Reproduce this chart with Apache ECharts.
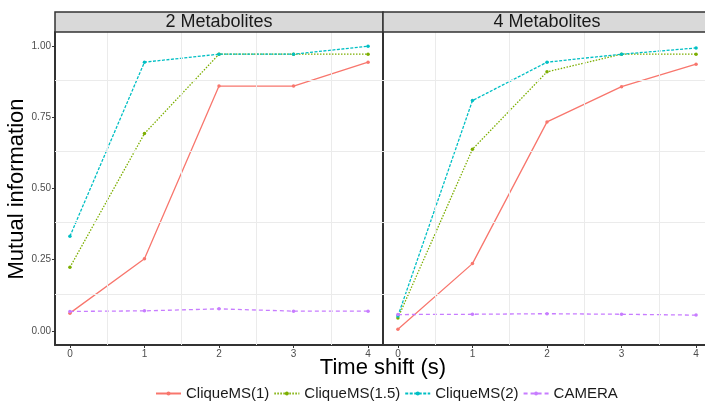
<!DOCTYPE html>
<html>
<head>
<meta charset="utf-8">
<script src="https://cdn.jsdelivr.net/npm/echarts@6/dist/echarts.min.js"></script>
<style>
  html, body { margin: 0; padding: 0; background: #fff; }
  #chart { width: 705px; height: 401px; }
</style>
</head>
<body>
<div id="chart"></div>
<script>
// Mutual information vs. time shift, faceted by number of metabolites
const times = [0, 1, 2, 3, 4];
const panels = ['2 Metabolites', '4 Metabolites'];
const methods = ['CliqueMS(1)', 'CliqueMS(1.5)', 'CliqueMS(2)', 'CAMERA'];

// 2 Metabolites
const clique1_m2  = [0.062, 0.253, 0.860, 0.860, 0.944];
const clique15_m2 = [0.223, 0.693, 0.972, 0.972, 0.972];
const clique2_m2  = [0.332, 0.944, 0.972, 0.972, 1.000];
const camera_m2   = [0.068, 0.070, 0.077, 0.069, 0.069];

// 4 Metabolites
const clique1_m4  = [0.005, 0.236, 0.734, 0.858, 0.937];
const clique15_m4 = [0.045, 0.638, 0.910, 0.972, 0.972];
const clique2_m4  = [0.052, 0.809, 0.944, 0.972, 0.994];
const camera_m4   = [0.057, 0.058, 0.060, 0.058, 0.055];

const yTicks = [0, 0.25, 0.5, 0.75, 1];
const xGridLines = [0.5, 1.5, 2.5, 3.5];
const yGridLines = [0.125, 0.375, 0.625, 0.875];

const panelValues = [
  [clique1_m2, clique15_m2, clique2_m2, camera_m2],
  [clique1_m4, clique15_m4, clique2_m4, camera_m4]
];

const colors = ['#F8766D', '#7CAE00', '#00BFC4', '#C77CFF'];
const dashes = ['solid', [1.5, 1.5], [3, 1.5], [4, 3]];

const chart = echarts.init(document.getElementById('chart'), null, { renderer: 'canvas' });

// Both panels share the same x scale; the second panel runs off the right edge
// of the canvas, so its visible range is cut short accordingly.
const xMin = -0.2, xMax = 4.2;
const panelWidth = 328;
const pxPerUnit = panelWidth / (xMax - xMin);
const grids = [
  { left: 55, top: 32, width: panelWidth, height: 313 },
  { left: 383, top: 32, width: 705 - 383, height: 313 }
];
const xRanges = [
  [xMin, xMax],
  [xMin, xMin + (705 - 383) / pxPerUnit]
];

const axisLineStyle = { color: '#333333', width: 2 };
const font = 'Liberation Sans, Arial, sans-serif';
const xAxes = panels.map((p, i) => ({
  type: 'value', gridIndex: i, min: xRanges[i][0], max: xRanges[i][1],
  axisLine: { show: true, onZero: false, lineStyle: axisLineStyle },
  axisTick: { show: true, length: 3, customValues: times, lineStyle: { color: '#333333', width: 1 } },
  axisLabel: { show: true, customValues: times, fontSize: 10, color: '#4d4d4d', margin: 4, fontFamily: font },
  splitLine: { show: false }
}));
const yAxes = panels.map((p, i) => ({
  type: 'value', gridIndex: i, min: -0.05, max: 1.05,
  axisLine: { show: true, onZero: false, lineStyle: axisLineStyle },
  axisTick: { show: i === 0, length: 3, customValues: yTicks, lineStyle: { color: '#333333', width: 1 } },
  axisLabel: { show: i === 0, customValues: yTicks, fontSize: 10, color: '#4d4d4d', margin: 4,
    fontFamily: font, formatter: v => v.toFixed(2) },
  splitLine: { show: false }
}));

const series = [];
panels.forEach((p, pi) => {
  // background grid lines of the panel
  series.push({
    type: 'line', xAxisIndex: pi, yAxisIndex: pi, data: [], z: 1, silent: true,
    markLine: {
      silent: true, symbol: 'none', animation: false,
      label: { show: false },
      lineStyle: { color: '#ebebeb', type: 'solid', width: 1 },
      data: [
        ...xGridLines.map(v => ({ xAxis: v })),
        ...yGridLines.map(v => ({ yAxis: v }))
      ]
    }
  });
  methods.forEach((m, mi) => {
    series.push({
      name: m, type: 'line', xAxisIndex: pi, yAxisIndex: pi, z: 3,
      data: times.map((t, k) => [t, panelValues[pi][mi][k]]),
      symbol: 'circle', symbolSize: 3.5, showSymbol: true,
      itemStyle: { color: colors[mi] },
      lineStyle: { color: colors[mi], width: 1.3, type: dashes[mi] },
      emphasis: { disabled: true }
    });
  });
});

const graphic = [];
panels.forEach((p, i) => {
  const g = grids[i];
  graphic.push({
    type: 'rect', z: 10,
    shape: { x: g.left, y: 12, width: i === 0 ? g.width : g.width + 10, height: 20 },
    style: { fill: '#d9d9d9', stroke: '#333333', lineWidth: 1.5 }
  });
  graphic.push({
    type: 'text', z: 11,
    x: i === 0 ? 219 : 547, y: 22.5,
    style: { text: p, fill: '#1a1a1a', font: '18px ' + font, align: 'center', verticalAlign: 'middle' }
  });
});
graphic.push({
  type: 'text', z: 11, x: 383, y: 368,
  style: { text: 'Time shift (s)', fill: '#000', font: '22px ' + font, align: 'center', verticalAlign: 'middle' }
});
graphic.push({
  type: 'text', z: 11, x: 17, y: 189, rotation: Math.PI / 2,
  style: { text: 'Mutual information', fill: '#000', font: '22px ' + font, align: 'center', verticalAlign: 'middle' }
});

chart.setOption({
  animation: false,
  backgroundColor: '#ffffff',
  grid: grids,
  xAxis: xAxes,
  yAxis: yAxes,
  legend: {
    data: methods, left: 150, top: 381,
    itemWidth: 25, itemHeight: 5, itemGap: 4,
    textStyle: { fontSize: 15, color: '#1a1a1a', fontFamily: font },
    selectedMode: false
  },
  graphic: graphic,
  series: series
});
</script>
</body>
</html>
